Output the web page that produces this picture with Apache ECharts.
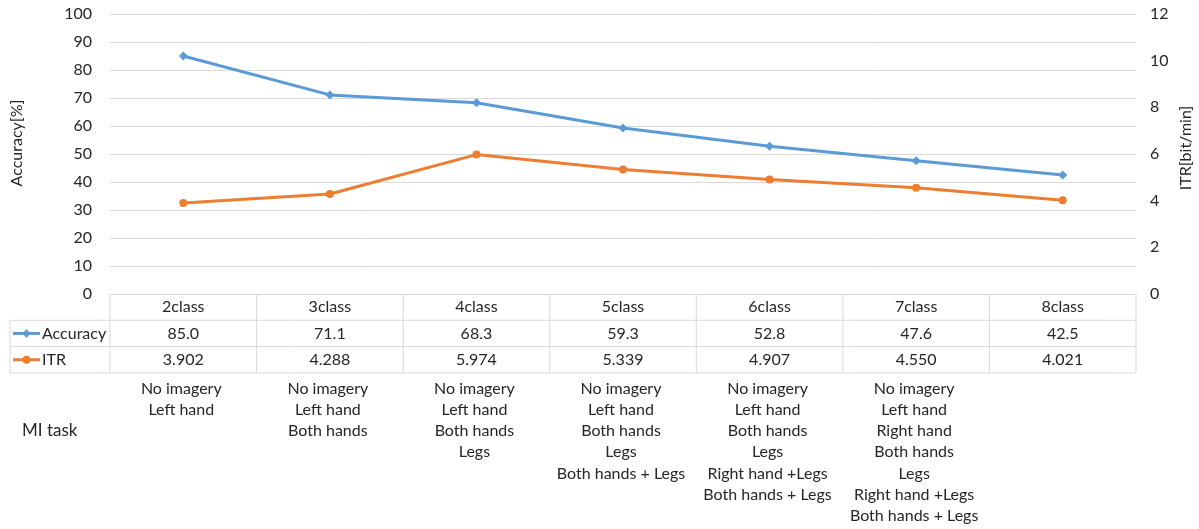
<!DOCTYPE html>
<html>
<head>
<meta charset="utf-8">
<script src="https://cdn.jsdelivr.net/npm/echarts@6/dist/echarts.min.js"></script>
<style>
  html, body { margin: 0; padding: 0; background: #fff; }
  #chart { width: 1199px; height: 529px; }
</style>
</head>
<body>
<div id="chart"></div>
<script>
// Classification conditions and their results
const categories = ['2class', '3class', '4class', '5class', '6class', '7class', '8class'];
const accuracy = [85.0, 71.1, 68.3, 59.3, 52.8, 47.6, 42.5];
const itr = [3.902, 4.288, 5.974, 5.339, 4.907, 4.550, 4.021];
const leftTicks = [0, 100, 10];   // min, max, step
const rightTicks = [0, 12, 2];
// Motor imagery classes used for each condition (printed under the table)
const miTasks = [
  ['No imagery', 'Left hand'],
  ['No imagery', 'Left hand', 'Both hands'],
  ['No imagery', 'Left hand', 'Both hands', 'Legs'],
  ['No imagery', 'Left hand', 'Both hands', 'Legs', 'Both hands + Legs'],
  ['No imagery', 'Left hand', 'Both hands', 'Legs', 'Right hand +Legs', 'Both hands + Legs'],
  ['No imagery', 'Left hand', 'Right hand', 'Both hands', 'Legs', 'Right hand +Legs', 'Both hands + Legs'],
  []
];

const FONT = 'Lato, "Open Sans", sans-serif';
const TXT = '#262626';
const LINE = '#d9d9d9';
const BLUE = '#5b9bd5';
const ORANGE = '#ed7d31';

const chart = echarts.init(document.getElementById('chart'));

const option = {
  animation: false,
  grid: { left: 110, right: 63, top: 14, bottom: 235 },
  xAxis: {
    type: 'category',
    data: categories,
    boundaryGap: true,
    axisLine: { show: true, lineStyle: { color: LINE, width: 1 } },
    axisTick: { show: false },
    axisLabel: { margin: 5, fontSize: 16, color: TXT, fontFamily: FONT, interval: 0 }
  },
  yAxis: [
    {
      type: 'value', min: leftTicks[0], max: leftTicks[1], interval: leftTicks[2],
      axisLine: { show: false }, axisTick: { show: false },
      axisLabel: { margin: 18, fontSize: 16, color: TXT, fontFamily: FONT },
      splitLine: { lineStyle: { color: LINE, width: 1 } }
    },
    {
      type: 'value', min: rightTicks[0], max: rightTicks[1], interval: rightTicks[2],
      axisLine: { show: false }, axisTick: { show: false },
      axisLabel: { margin: 14, fontSize: 16, color: TXT, fontFamily: FONT },
      splitLine: { show: false }
    }
  ],
  series: [
    {
      name: 'Accuracy', type: 'line', data: accuracy, yAxisIndex: 0,
      symbol: 'diamond', symbolSize: 9,
      lineStyle: { color: BLUE, width: 3 }, itemStyle: { color: BLUE }
    },
    {
      name: 'ITR', type: 'line', data: itr, yAxisIndex: 1,
      symbol: 'circle', symbolSize: 8,
      lineStyle: { color: ORANGE, width: 3 }, itemStyle: { color: ORANGE }
    }
  ]
};
chart.setOption(option);

// Data table, legend keys and task descriptions under the plot
function buildTable() {
  const g = [];
  const n = categories.length;
  const c0 = chart.convertToPixel({ xAxisIndex: 0 }, 0);
  const c1 = chart.convertToPixel({ xAxisIndex: 0 }, 1);
  const band = c1 - c0;
  const x0 = c0 - band / 2;
  const xEnd = x0 + band * n;
  const yTop = chart.convertToPixel({ yAxisIndex: 0 }, 0);
  const rowH = 26.3;
  const yRow1 = yTop + rowH;
  const yRow2 = yTop + rowH * 2;
  const yBot = yTop + rowH * 3;
  const tableLeft = 10;
  const ls = { stroke: LINE, lineWidth: 1 };

  // horizontal rules
  g.push({ type: 'line', shape: { x1: tableLeft, y1: yRow1, x2: xEnd, y2: yRow1 }, style: ls });
  g.push({ type: 'line', shape: { x1: tableLeft, y1: yRow2, x2: xEnd, y2: yRow2 }, style: ls });
  g.push({ type: 'line', shape: { x1: tableLeft, y1: yBot, x2: xEnd, y2: yBot }, style: ls });
  // vertical rules
  g.push({ type: 'line', shape: { x1: tableLeft, y1: yRow1, x2: tableLeft, y2: yBot }, style: ls });
  for (let i = 0; i <= n; i++) {
    const x = x0 + band * i;
    g.push({ type: 'line', shape: { x1: x, y1: yTop, x2: x, y2: yBot }, style: ls });
  }

  // value cells
  const rows = [
    { vals: accuracy.map(v => v.toFixed(1)), y: (yRow1 + yRow2) / 2 },
    { vals: itr.map(v => v.toFixed(3)), y: (yRow2 + yBot) / 2 }
  ];
  rows.forEach(r => {
    r.vals.forEach((t, i) => {
      g.push({
        type: 'text', x: c0 + band * i, y: r.y,
        style: { text: t, fill: TXT, font: '16px ' + FONT, align: 'center', verticalAlign: 'middle' }
      });
    });
  });

  // legend keys in the row headers
  const keyX1 = 13, keyX2 = 40, keyMid = 26.5;
  const yA = (yRow1 + yRow2) / 2, yI = (yRow2 + yBot) / 2;
  g.push({ type: 'line', shape: { x1: keyX1, y1: yA, x2: keyX2, y2: yA }, style: { stroke: BLUE, lineWidth: 3 } });
  g.push({ type: 'polygon', shape: { points: [[keyMid, yA - 4.5], [keyMid + 4, yA], [keyMid, yA + 4.5], [keyMid - 4, yA]] }, style: { fill: BLUE } });
  g.push({ type: 'text', x: 42, y: yA, style: { text: 'Accuracy', fill: TXT, font: '16px ' + FONT, align: 'left', verticalAlign: 'middle' } });
  g.push({ type: 'line', shape: { x1: keyX1, y1: yI, x2: keyX2, y2: yI }, style: { stroke: ORANGE, lineWidth: 3 } });
  g.push({ type: 'circle', shape: { cx: keyMid, cy: yI, r: 4 }, style: { fill: ORANGE } });
  g.push({ type: 'text', x: 42, y: yI, style: { text: 'ITR', fill: TXT, font: '16px ' + FONT, align: 'left', verticalAlign: 'middle' } });

  // motor imagery task lists
  miTasks.forEach((lines, i) => {
    if (!lines.length) return;
    g.push({
      type: 'text', x: c0 + band * i - 2, y: 378,
      style: { text: lines.join('\n'), fill: TXT, font: '16px ' + FONT, align: 'center', verticalAlign: 'top', lineHeight: 21.2 }
    });
  });
  g.push({ type: 'text', x: 22, y: 431, style: { text: 'MI task', fill: TXT, font: '17px ' + FONT, align: 'left', verticalAlign: 'middle' } });

  // axis titles
  g.push({ type: 'text', x: 17, y: 143, rotation: Math.PI / 2, style: { text: 'Accuracy[%]', fill: TXT, font: '16px ' + FONT, align: 'center', verticalAlign: 'middle' } });
  g.push({ type: 'text', x: 1186, y: 148, rotation: Math.PI / 2, style: { text: 'ITR[bit/min]', fill: TXT, font: '16px ' + FONT, align: 'center', verticalAlign: 'middle' } });

  chart.setOption({ graphic: g });
}
buildTable();
</script>
</body>
</html>
